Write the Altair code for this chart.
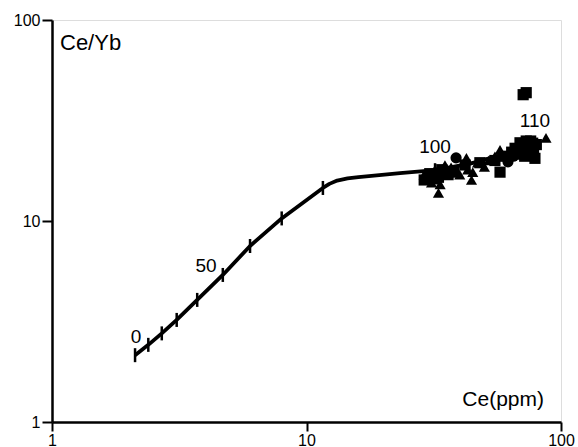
import altair as alt
import pandas as pd

# Mixing / melting curve (Ce ppm vs Ce/Yb)
curve_x = [2.12, 2.39, 2.70, 3.09, 3.72, 4.69, 6.00, 7.99, 11.6, 12.3, 13.2, 14.5, 16.0, 18.0, 23.3, 32.0, 44.0, 57.6, 80.5]
curve_y = [2.15, 2.42, 2.76, 3.22, 4.05, 5.39, 7.51, 10.3, 14.6, 15.3, 15.9, 16.3, 16.55, 16.75, 17.3, 17.9, 19.3, 21.2, 24.0]

# Tick marks along the curve
tick_x = [2.12, 2.39, 2.70, 3.09, 3.72, 4.69, 6.00, 7.99, 11.6, 32.0, 80.5]
tick_y = [2.15, 2.42, 2.76, 3.22, 4.05, 5.39, 7.51, 10.3, 14.6, 17.9, 24.0]

# Curve labels
lab_text = ["0", "50", "100", "110"]
lab_x = [2.14, 4.03, 32.0, 79.0]
lab_y = [2.65, 5.97, 23.3, 31.4]

# Samples
tri_x = [29, 30, 31, 32, 33, 33.5, 34, 35, 37, 40, 42.5, 43, 44.5, 45, 47, 50, 52, 55, 57.6, 62, 68, 75, 87.3]
tri_y = [17.0, 16.5, 15.5, 18.0, 13.8, 15.2, 17.5, 19.0, 18.5, 17.0, 20.6, 18.0, 16.0, 17.5, 19.5, 18.6, 20.0, 21.0, 22.6, 21.5, 24.0, 25.0, 25.9]
sq_x = [29, 30.5, 31, 32, 33, 34, 35, 36, 38, 42, 48, 55, 57.6, 60, 64, 66, 67, 68, 69, 70, 71, 72, 73, 74, 75, 76, 77, 78, 79, 80, 71, 73]
sq_y = [16.0, 17.2, 17.0, 16.2, 16.5, 18.0, 17.2, 17.0, 17.5, 19.0, 19.5, 20.0, 17.5, 21.0, 22.0, 23.0, 21.5, 22.0, 24.5, 24.0, 22.5, 21.0, 25.0, 23.0, 21.5, 25.0, 22.5, 22.0, 20.5, 24.0, 42.5, 43.5]
circ_x = [38.7, 61.9, 65.0]
circ_y = [20.6, 19.7, 21.0]

curve_df = pd.DataFrame({"x": curve_x, "y": curve_y, "i": list(range(len(curve_x)))})
tick_df = pd.DataFrame({"x": tick_x, "y": tick_y})
lab_df = pd.DataFrame({"x": lab_x, "y": lab_y, "t": lab_text})
pts_df = pd.concat([
    pd.DataFrame({"x": tri_x, "y": tri_y, "s": "tri"}),
    pd.DataFrame({"x": sq_x, "y": sq_y, "s": "sq"}),
    pd.DataFrame({"x": circ_x, "y": circ_y, "s": "circ"}),
])

FONT = "Liberation Sans"

xs = alt.Scale(type="log", domain=[1, 100], nice=False)
ys = alt.Scale(type="log", domain=[1, 100], nice=False)

xax = alt.Axis(values=[1, 10, 100], format="d", title=None, grid=False,
               tickSize=9, tickWidth=2, tickColor="black", domainColor="black",
               domainWidth=2.5, labelFontSize=16, labelFont=FONT, labelColor="black",
               labelPadding=1, labelFlush=False, labelOverlap=False)
yax = alt.Axis(values=[1, 10, 100], format="d", title=None, grid=False,
               tickSize=10, tickWidth=2, tickColor="black", domainColor="black",
               domainWidth=2.5, labelFontSize=16, labelFont=FONT, labelColor="black",
               labelPadding=2, labelFlush=False, labelOverlap=False)

X = alt.X("x:Q", scale=xs, axis=xax)
Y = alt.Y("y:Q", scale=ys, axis=yax)

line = alt.Chart(curve_df).mark_line(color="black", strokeWidth=3.8, strokeJoin="round").encode(
    x=X, y=Y, order="i:Q")

ticks = alt.Chart(tick_df).mark_tick(orient="vertical", color="black", opacity=1,
                                     size=14, thickness=2.5).encode(
    x=alt.X("x:Q", scale=xs), y=alt.Y("y:Q", scale=ys))

pts = alt.Chart(pts_df).mark_point(filled=True, color="black", opacity=1, size=125).encode(
    x=alt.X("x:Q", scale=xs), y=alt.Y("y:Q", scale=ys),
    shape=alt.Shape("s:N", scale=alt.Scale(domain=["tri", "sq", "circ"],
                                           range=["triangle-up", "square", "circle"]),
                    legend=None))

labels = alt.Chart(lab_df).mark_text(font=FONT, fontSize=19, color="black",
                                      align="center", baseline="middle").encode(
    x=alt.X("x:Q", scale=xs), y=alt.Y("y:Q", scale=ys), text="t:N")

title_df = pd.DataFrame({"t": ["Ce/Yb"]})
ytitle = alt.Chart(title_df).mark_text(font=FONT, fontSize=22, color="black",
                                        align="left", baseline="alphabetic").encode(
    x=alt.value(8), y=alt.value(30), text="t:N")
xtitle_df = pd.DataFrame({"t": ["Ce(ppm)"]})
xtitle = alt.Chart(xtitle_df).mark_text(font=FONT, fontSize=21, color="black",
                                         align="right", baseline="alphabetic").encode(
    x=alt.value(492), y=alt.value(386), text="t:N")

chart = alt.layer(line, ticks, pts, labels, ytitle, xtitle).properties(
    width=509, height=402,
    autosize=alt.AutoSizeParams(type="none"),
    padding={"left": 52, "top": 20, "right": 17, "bottom": 25},
).configure_view(stroke="black", strokeWidth=2.5).configure(background="white")

chart.save("out.html", embed_options={"renderer": "svg", "actions": False})
